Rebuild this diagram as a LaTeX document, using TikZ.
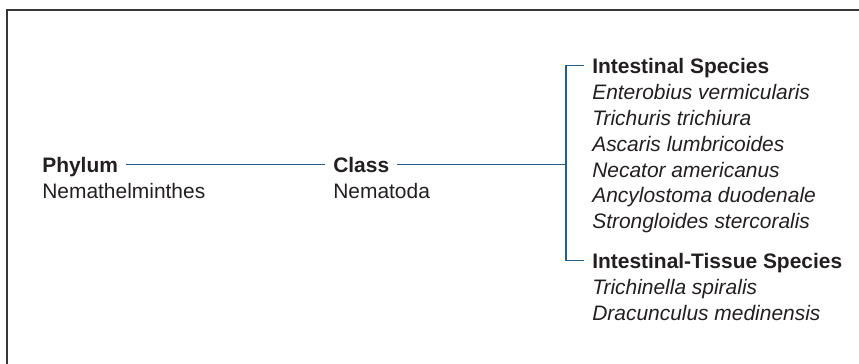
\documentclass[tikz,border=0pt]{standalone}
\usepackage{fontspec}
\setmainfont{Liberation Sans}
\usepackage{xcolor}
\usepackage{tikz}
\usetikzlibrary{calc}

\definecolor{inkgray}{RGB}{35,31,32}
\definecolor{linkblue}{RGB}{31,94,145}
\definecolor{framegray}{RGB}{55,55,55}

\begin{document}
\begin{tikzpicture}[scale = 1]

\tikzstyle{rank_t}=[anchor = base west, inner xsep = 0.2cm, inner ysep = 0, text height = 0.425cm, text depth = 0, text = inkgray, font = \fontsize{14.9}{18.4}\selectfont\bfseries]
\tikzstyle{rank_n}=[anchor = base west, inner sep = 0, text = inkgray, font = \fontsize{14.9}{18.4}\selectfont]
\tikzstyle{species}=[anchor = base west, inner sep = 0, text = inkgray, font = \fontsize{14.9}{18.4}\selectfont\itshape]
\tikzstyle{link}=[line width = 1.1pt, color = linkblue]

\useasboundingbox (0, 0) rectangle (21.475, 9.1);

% frame (only top and left edges show)
\draw[line width = 1.5pt, color = framegray] (0.175, -0.5) -- (0.175, 8.85) -- (22, 8.85);

\coordinate (P) at (0.85, 4.775);
\coordinate (C) at (8.125, 4.775);
\coordinate (I) at (14.6, 7.25);
\coordinate (T) at (14.6, 2.375);

\path
($(P)$) node[rank_t](phylum) {Phylum}
($(P) + (0.2, -0.65)$) node[rank_n](phylumname) {Nemathelminthes}
($(C)$) node[rank_t](class) {Class}
($(C) + (0.2, -0.65)$) node[rank_n](classname) {Nematoda};

\path
($(I)$) node[rank_t](intestinal) {Intestinal Species}
($(I) + (0.2, -0.645)$) node[species](s1) {Enterobius vermicularis}
($(I) + (0.2, -1.29)$) node[species](s2) {Trichuris trichiura}
($(I) + (0.2, -1.935)$) node[species](s3) {Ascaris lumbricoides}
($(I) + (0.2, -2.58)$) node[species](s4) {Necator americanus}
($(I) + (0.2, -3.225)$) node[species](s5) {Ancylostoma duodenale}
($(I) + (0.2, -3.87)$) node[species](s6) {Strongloides stercoralis};

\path
($(T)$) node[rank_t](tissue) {Intestinal-Tissue Species}
($(T) + (0.2, -0.65)$) node[species](t1) {Trichinella spiralis}
($(T) + (0.2, -1.3)$) node[species](t2) {Dracunculus medinensis};

\coordinate (brk) at (14.15, 0 |- class.east);

% connectors
\draw[link] (phylum.east) to (class.west);
\draw[link] (class.east) to (brk);
\draw[link] (intestinal.west) -- (intestinal.west -| brk) -- (tissue.west -| brk) -- (tissue.west);

\end{tikzpicture}
\end{document}
